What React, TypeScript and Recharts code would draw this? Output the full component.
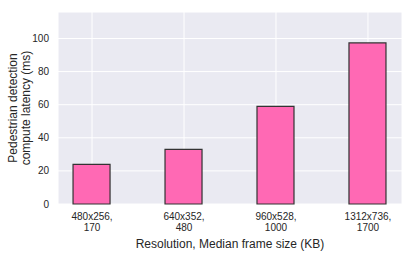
import { Bar, BarChart, CartesianGrid, Label, XAxis, YAxis } from "recharts";

const resolutions = ["480x256,", "640x352,", "960x528,", "1312x736,"];
const frameSizes = ["170", "480", "1000", "1700"];
const latencies = [24, 33, 59, 97.3];
const yTicks = [0, 20, 40, 60, 80, 100];

const FONT = "'Liberation Sans', Arial, sans-serif";
const TEXT = "#262626";

const data = latencies.map((latency, index) => ({ x: index, latency }));

function CategoryTick({ x, y, payload }: { x: number; y: number; payload: { value: number } }) {
  const i = payload.value;
  return (
    <text x={x} y={y} textAnchor="middle" fontSize={10} fill={TEXT} fontFamily={FONT}>
      <tspan x={x} dy={8}>{resolutions[i]}</tspan>
      <tspan x={x} dy={10.5}>{frameSizes[i]}</tspan>
    </text>
  );
}

function YTitle({ viewBox }: { viewBox?: { x: number; y: number; width: number; height: number } }) {
  if (!viewBox) return null;
  const cy = viewBox.y + viewBox.height / 2;
  return (
    <text
      transform={`translate(0, ${cy}) rotate(-90)`}
      textAnchor="middle"
      fontSize={12}
      fill={TEXT}
      fontFamily={FONT}
    >
      <tspan x={0} y={17}>Pedestrian detection</tspan>
      <tspan x={0} y={30}>compute latency (ms)</tspan>
    </text>
  );
}

export default function App() {
  return (
    <div style={{ position: "absolute", left: 0, top: 0, background: "#fff" }}>
      <BarChart width={415} height={253} data={data} margin={{ top: 12, right: 13, bottom: 0, left: 0 }}>
        <CartesianGrid fill="#EAEAF2" stroke="#ffffff" strokeWidth={1} />
        <XAxis
          dataKey="x"
          type="number"
          domain={[-0.37, 3.37]}
          ticks={[0, 1, 2, 3]}
          height={49}
          tickLine={false}
          axisLine={false}
          tick={CategoryTick as any}
          interval={0}
        >
          <Label
            value="Resolution, Median frame size (KB)"
            position="insideBottom"
            offset={5}
            fontSize={12}
            fill={TEXT}
            fontFamily={FONT}
          />
        </XAxis>
        <YAxis
          type="number"
          domain={[0, 116]}
          ticks={yTicks}
          width={58}
          tickLine={false}
          axisLine={false}
          tickMargin={3}
          tick={{ fontSize: 10, fill: TEXT, fontFamily: FONT }}
        >
          <Label content={YTitle as any} />
        </YAxis>
        <Bar
          dataKey="latency"
          fill="#FF69B4"
          stroke="#333333"
          strokeWidth={1.2}
          barSize={37}
          isAnimationActive={false}
        />
      </BarChart>
    </div>
  );
}
